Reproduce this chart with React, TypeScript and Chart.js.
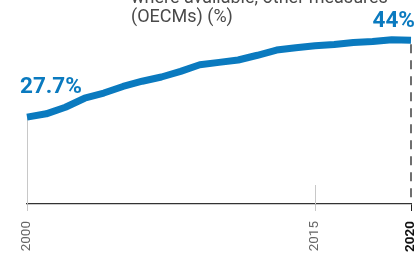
import React, { useEffect, useRef } from 'react';
import { Chart, registerables } from 'chart.js';

Chart.register(...registerables);

const years = [2000, 2001, 2002, 2003, 2004, 2005, 2006, 2007, 2008, 2009, 2010, 2011, 2012, 2013, 2014, 2015, 2016, 2017, 2018, 2019, 2020];
const coverage = [27.7, 28.4, 29.8, 31.7, 32.8, 34.2, 35.3, 36.2, 37.4, 38.8, 39.3, 39.8, 40.8, 41.9, 42.4, 42.8, 43.1, 43.5, 43.7, 44.1, 44.0];
const tickYears = [2000, 2015, 2020];
const highlightYear = 2020;
const startLabel = '27.7%';
const endLabel = '44%';
const titleLines = ['where available, other measures', '(OECMs) (%)'];

const BLUE = '#0a7abf';

const extrasPlugin = {
  id: 'extras',
  beforeDatasetsDraw(chart: any) {
    const { ctx, scales } = chart;
    const x = scales.x;
    const y = scales.y;
    const base = chart.chartArea.bottom;
    ctx.save();
    const x0 = x.getPixelForValue(years[0]);
    const y0 = y.getPixelForValue(coverage[0]);
    ctx.strokeStyle = '#c8c8c8';
    ctx.lineWidth = 1;
    ctx.beginPath();
    ctx.moveTo(Math.round(x0) + 0.5, y0);
    ctx.lineTo(Math.round(x0) + 0.5, base);
    ctx.stroke();
    const x15 = x.getPixelForValue(tickYears[1]);
    ctx.beginPath();
    ctx.moveTo(Math.round(x15) + 0.5, base - 19);
    ctx.lineTo(Math.round(x15) + 0.5, base);
    ctx.stroke();
    const xn = x.getPixelForValue(years[years.length - 1]);
    const yn = y.getPixelForValue(coverage[coverage.length - 1]);
    ctx.strokeStyle = '#222';
    ctx.lineWidth = 1.3;
    ctx.setLineDash([9, 7]);
    ctx.beginPath();
    ctx.moveTo(xn, yn + 4);
    ctx.lineTo(xn, base);
    ctx.stroke();
    ctx.restore();
  },
  afterDatasetsDraw(chart: any) {
    const { ctx, scales } = chart;
    const x = scales.x;
    const y = scales.y;
    ctx.save();
    ctx.fillStyle = BLUE;
    ctx.font = 'bold 22.5px Roboto';
    ctx.textBaseline = 'alphabetic';
    const x0 = x.getPixelForValue(years[0]);
    const y0 = y.getPixelForValue(coverage[0]);
    ctx.textAlign = 'left';
    ctx.fillText(startLabel, x0 - 7, y0 - 24);
    const xn = x.getPixelForValue(years[years.length - 1]);
    const yn = y.getPixelForValue(coverage[coverage.length - 1]);
    ctx.textAlign = 'right';
    ctx.fillText(endLabel, xn + 4, yn - 13);
    ctx.fillStyle = '#4a4a4a';
    ctx.font = '18px Roboto';
    ctx.textAlign = 'left';
    titleLines.forEach((t, i) => {
      ctx.fillText(t, 131, 3 + i * 18.5);
    });
    ctx.restore();
  },
};

export default function App() {
  const ref = useRef<HTMLCanvasElement | null>(null);
  useEffect(() => {
    if (!ref.current) return;
    const chart = new Chart(ref.current, {
      type: 'line',
      data: {
        labels: years,
        datasets: [
          {
            data: years.map((yr, i) => ({ x: yr, y: coverage[i] })),
            borderColor: BLUE,
            borderWidth: 7,
            pointRadius: 0,
            tension: 0,
            fill: false,
            clip: false as any,
            borderCapStyle: 'butt',
            borderJoinStyle: 'round',
          },
        ],
      },
      options: {
        animation: false,
        responsive: false,
        maintainAspectRatio: false,
        layout: { padding: { left: 27, right: 8, top: 26, bottom: 0 } },
        plugins: { legend: { display: false }, tooltip: { enabled: false }, title: { display: false } },
        scales: {
          x: {
            type: 'linear',
            min: years[0],
            max: years[years.length - 1],
            afterBuildTicks: (scale: any) => {
              scale.ticks = tickYears.map((v) => ({ value: v }));
            },
            afterFit: (scale: any) => {
              scale.height = 51;
              scale.paddingLeft = 0;
              scale.paddingRight = 0;
            },
            border: { display: true, color: '#333', width: 1.3 },
            grid: {
              display: true,
              drawOnChartArea: false,
              drawTicks: true,
              tickLength: 7,
              tickColor: (c: any) => (c.tick && c.tick.value === highlightYear ? '#222' : '#c8c8c8'),
              tickWidth: 1,
            },
            ticks: {
              autoSkip: false,
              minRotation: 90,
              maxRotation: 90,
              padding: 10,
              callback: (v: any) => String(v),
              color: (c: any) => (c.tick && c.tick.value === highlightYear ? '#111' : '#666'),
              font: (c: any) =>
                c.tick && c.tick.value === highlightYear
                  ? { family: 'Roboto', size: 13.5, weight: 'bold' }
                  : { family: 'Roboto', size: 13.5, weight: 'normal' },
            },
          },
          y: {
            display: false,
            min: 9.3,
            max: 47,
          },
        },
      },
      plugins: [extrasPlugin],
    });
    return () => chart.destroy();
  }, []);
  return (
    <div style={{ position: 'fixed', left: 0, top: 0, width: 419, height: 255, background: '#fff' }}>
      <canvas ref={ref} width={419} height={255} style={{ display: 'block' }} />
    </div>
  );
}
